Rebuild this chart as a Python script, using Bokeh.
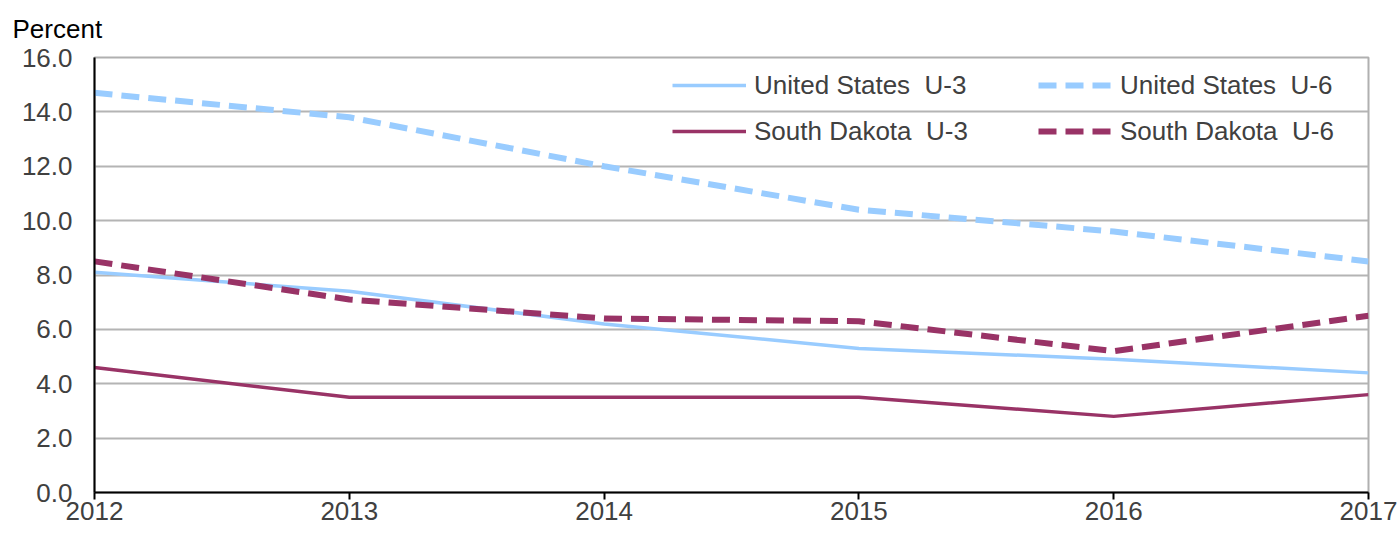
from bokeh.plotting import figure
from bokeh.models import Legend, LegendItem, FixedTicker, Range1d, NumeralTickFormatter
from bokeh.embed import file_html
from bokeh.resources import INLINE

years = [2012, 2013, 2014, 2015, 2016, 2017]
us_u3 = [8.1, 7.4, 6.2, 5.3, 4.9, 4.4]
us_u6 = [14.7, 13.8, 12.0, 10.4, 9.6, 8.5]
sd_u3 = [4.6, 3.5, 3.5, 3.5, 2.8, 3.6]
sd_u6 = [8.5, 7.1, 6.4, 6.3, 5.2, 6.5]
y_ticks = [0, 2, 4, 6, 8, 10, 12, 14, 16]
series_names = ["United States  U-3", "United States  U-6", "South Dakota  U-3", "South Dakota  U-6"]

BLUE = "#99CCFF"
MAROON = "#993366"
TEXT = "#404040"
FONT = "Liberation Sans"

p = figure(width=1400, height=536, output_backend="svg", toolbar_location=None,
           x_range=Range1d(2012, 2017), y_range=Range1d(0, 16),
           min_border_left=94, min_border_right=32, min_border_top=57, min_border_bottom=44,
           title="Percent")
p.background_fill_color = "white"
p.border_fill_color = "white"
p.outline_line_color = "#b0b0b0"
p.outline_line_width = 2

p.title.align = "left"
p.title.vertical_align = "top"
p.title.offset = -82
p.title.text_font = FONT
p.title.text_font_size = "26px"
p.title.text_font_style = "normal"
p.title.text_color = "black"
p.title.standoff = 24

p.xgrid.visible = False
p.ygrid.ticker = FixedTicker(ticks=y_ticks)
p.ygrid.grid_line_color = "#b4b4b4"
p.ygrid.grid_line_width = 2

p.yaxis.ticker = FixedTicker(ticks=y_ticks)
p.yaxis.formatter = NumeralTickFormatter(format="0.0")
p.yaxis.major_tick_line_color = None
p.yaxis.minor_tick_line_color = None
p.yaxis.major_label_standoff = 16
p.yaxis.axis_line_color = "black"
p.yaxis.axis_line_width = 2

p.xaxis.ticker = FixedTicker(ticks=years)
p.xaxis.major_tick_out = 7
p.xaxis.major_tick_in = 0
p.xaxis.major_tick_line_color = "black"
p.xaxis.major_tick_line_width = 2
p.xaxis.minor_tick_line_color = None
p.xaxis.major_label_standoff = 2
p.xaxis.axis_line_color = "black"
p.xaxis.axis_line_width = 2

for ax in (p.xaxis, p.yaxis):
    ax.major_label_text_font = FONT
    ax.major_label_text_font_size = "26px"
    ax.major_label_text_color = TEXT

r_us3 = p.line(years, us_u3, line_color=BLUE, line_width=3.5)
r_sd3 = p.line(years, sd_u3, line_color=MAROON, line_width=3.5)
r_us6 = p.line(years, us_u6, line_color=BLUE, line_width=6, line_dash="18 9")
r_sd6 = p.line(years, sd_u6, line_color=MAROON, line_width=6, line_dash="18 9")

legend = Legend(items=[
    LegendItem(label=series_names[0], renderers=[r_us3]),
    LegendItem(label=series_names[2], renderers=[r_sd3]),
    LegendItem(label=series_names[1], renderers=[r_us6]),
    LegendItem(label=series_names[3], renderers=[r_sd6]),
], ncols=2, location=(578, 341))
legend.background_fill_alpha = 0
legend.border_line_color = None
legend.padding = 0
legend.margin = 0
legend.spacing = 6
legend.glyph_width = 74
legend.glyph_height = 40
legend.label_height = 40
legend.label_width = 278
legend.label_standoff = 8
legend.label_text_font = FONT
legend.label_text_font_size = "26px"
legend.label_text_color = TEXT
p.add_layout(legend, "center")

open("out.html", "w").write(file_html(p, INLINE))
